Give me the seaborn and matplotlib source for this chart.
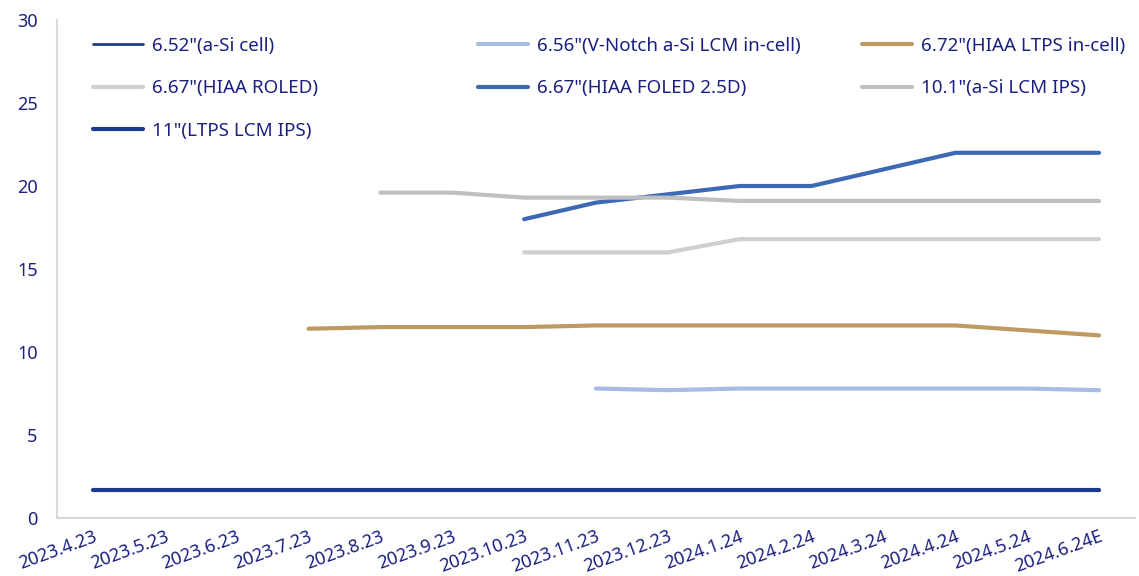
import numpy as np
import pandas as pd
import matplotlib
matplotlib.use("Agg")
import matplotlib.pyplot as plt
import seaborn as sns
from matplotlib.lines import Line2D

categories = ["2023.4.23", "2023.5.23", "2023.6.23", "2023.7.23", "2023.8.23", "2023.9.23",
              "2023.10.23", "2023.11.23", "2023.12.23", "2024.1.24", "2024.2.24", "2024.3.24",
              "2024.4.24", "2024.5.24", "2024.6.24E"]
nan = np.nan
s_652_asi = [1.7] * 15
s_656_vnotch = [nan, nan, nan, nan, nan, nan, nan, 7.8, 7.7, 7.8, 7.8, 7.8, 7.8, 7.8, 7.7]
s_672_ltps = [nan, nan, nan, 11.4, 11.5, 11.5, 11.5, 11.6, 11.6, 11.6, 11.6, 11.6, 11.6, 11.3, 11.0]
s_667_roled = [nan, nan, nan, nan, nan, nan, 16.0, 16.0, 16.0, 16.8, 16.8, 16.8, 16.8, 16.8, 16.8]
s_667_foled = [nan, nan, nan, nan, nan, nan, 18.0, 19.0, 19.5, 20.0, 20.0, 21.0, 22.0, 22.0, 22.0]
s_101_asi = [nan, nan, nan, nan, 19.6, 19.6, 19.3, 19.3, 19.3, 19.1, 19.1, 19.1, 19.1, 19.1, 19.1]
s_11_ltps = [1.7] * 15

series_names = ['6.52"(a-Si cell)', '6.56"(V-Notch a-Si LCM in-cell)', '6.72"(HIAA LTPS in-cell)',
                '6.67"(HIAA ROLED)', '6.67"(HIAA FOLED 2.5D)', '10.1"(a-Si LCM IPS)',
                '11"(LTPS LCM IPS)']
series_values = [s_652_asi, s_656_vnotch, s_672_ltps, s_667_roled, s_667_foled, s_101_asi, s_11_ltps]
colors = ["#1F3C96", "#A6BCE5", "#BE9A62", "#D0CECE", "#3D68B4", "#BFBFBF", "#1A3A90"]
widths = [2.0, 3.0, 3.0, 3.0, 3.0, 3.0, 3.0]

rows = []
for name, vals in zip(series_names, series_values):
    for i, v in enumerate(vals):
        rows.append({"series": name, "x": i, "value": v})
df = pd.DataFrame(rows).dropna()

sns.set_theme(style="white")
plt.rcParams['font.family'] = ['Noto Sans', 'DejaVu Sans']
text_color = "#1A2080"

fig = plt.figure(figsize=(11.39, 5.76), dpi=100)
ax = fig.add_axes([57/1139, 1 - 518/576, (1135 - 57)/1139, (518 - 20)/576])

for name, col, lw in zip(series_names, colors, widths):
    sub = df[df["series"] == name]
    sns.lineplot(data=sub, x="x", y="value", ax=ax, color=col, linewidth=lw,
                 solid_capstyle="round", legend=False)

ax.set_xlim(-0.5, 14.5)
ax.set_ylim(0, 30)
ax.set_yticks(np.arange(0, 31, 5))
ax.set_xticks(range(len(categories)))
ax.set_xticklabels(categories, rotation=20, ha="right", va="top", rotation_mode="anchor")
ax.set_xlabel("")
ax.set_ylabel("")
ax.tick_params(axis="both", length=0, labelsize=13, colors=text_color)
ax.tick_params(axis="y", pad=14)
ax.tick_params(axis="x", pad=7)
for sp in ["top", "right"]:
    ax.spines[sp].set_visible(False)
for sp in ["left", "bottom"]:
    ax.spines[sp].set_color("#D9D9D9")
    ax.spines[sp].set_linewidth(1.5)
ax.grid(False)

# legend in three columns with fixed positions
handles = [Line2D([0], [0], color=c, linewidth=w) for c, w in zip(colors, widths)]
columns = [[0, 3, 6], [1, 4], [2, 5]]
col_x = [93, 478, 862]
legs = []
for cx, idxs in zip(col_x, columns):
    leg = fig.legend([handles[i] for i in idxs], [series_names[i] for i in idxs],
                     loc="upper left", bbox_to_anchor=(cx/1139, 1 - 37/576),
                     bbox_transform=fig.transFigure, frameon=False, fontsize=13.5,
                     handlelength=2.65, handletextpad=0.5, labelspacing=1.3,
                     borderpad=0, borderaxespad=0, labelcolor=text_color)
    legs.append(leg)

fig.savefig("out.png", dpi=100)
